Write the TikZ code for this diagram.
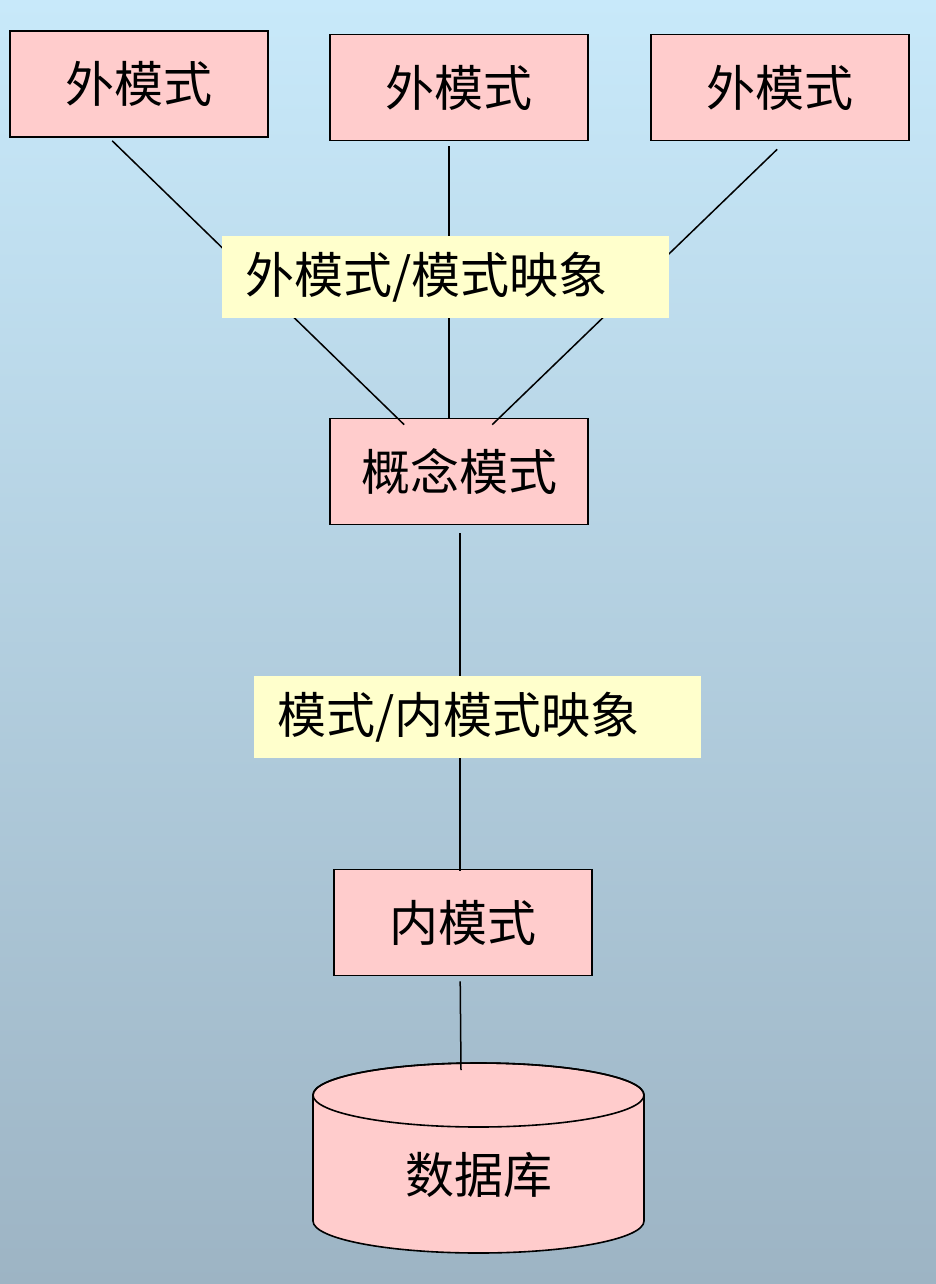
\documentclass[tikz,border=0pt]{standalone}
\usepackage{fontspec}
\newfontfamily\cjk{Noto Sans CJK SC}
\usetikzlibrary{calc}
\definecolor{bgtop}{RGB}{200,233,250}
\definecolor{bgbot}{RGB}{157,180,196}
\definecolor{boxfill}{RGB}{255,204,204}
\definecolor{labfill}{RGB}{255,255,204}
\tikzset{
  box/.style={draw=black, line width=1.6pt, fill=boxfill, minimum width=258pt, minimum height=106pt, inner sep=0pt, font=\cjk\fontsize{49}{52}\selectfont},
  maplabel/.style={fill=labfill, minimum width=447pt, minimum height=82pt, text width=401pt, align=left, inner xsep=23pt, inner ysep=0pt, font=\cjk\fontsize{49}{52}\selectfont},
  conn/.style={draw=black, line width=1.5pt},
  dbtext/.style={font=\cjk\fontsize{49}{52}\selectfont, inner sep=0pt}
}
\begin{document}
\begin{tikzpicture}[x=1pt,y=1pt]
\useasboundingbox (0,0) rectangle (936,-1284);
\shade[top color=bgtop, bottom color=bgbot] (0,0) rectangle (936,-1284);

% boxes
\node[box] (e1) at (139,-84) {外模式};
\node[box] (e2) at (459,-87.5) {外模式};
\node[box] (e3) at (780,-87.5) {外模式};
\node[box] (c) at (459,-471.5) {概念模式};
\node[box] (in) at (463,-922.5) {内模式};

% database cylinder
\filldraw[fill=boxfill, draw=black, line width=1.6pt]
  (313,-1095) -- (313,-1221) arc[start angle=180, end angle=360, x radius=165.5, y radius=32]
  -- (644,-1095) arc[start angle=0, end angle=180, x radius=165.5, y radius=32] -- cycle;
\draw[black, line width=1.6pt] (478.5,-1095) ellipse[x radius=165.5, y radius=32];
\node[dbtext] (db) at (478.5,-1175) {数据库};
\coordinate (dbtop) at (461,-1070);

% connectors
\draw[conn] ($(e1.south west)+(103,-3)$) -- ($(c.north west)+(75,-7)$);
\draw[conn] ($(e2.south west)+(120,-5)$) -- ($(c.north west)+(120,0)$);
\draw[conn] ($(e3.south west)+(127,-8)$) -- ($(c.north west)+(163,-7)$);
\draw[conn] ($(c.south west)+(131,-8)$) -- ($(in.north west)+(127,-2)$);
\draw[conn] ($(in.south west)+(127,-5)$) -- (dbtop);

% mapping labels
\node[maplabel] (m1) at (445.5,-277) {外模式/模式映象};
\node[maplabel] (m2) at (477.5,-717) {模式/内模式映象};
\end{tikzpicture}
\end{document}
